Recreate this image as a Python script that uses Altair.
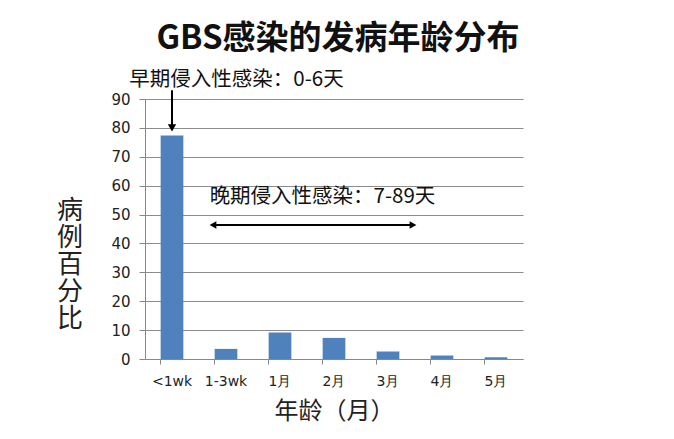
import altair as alt
import pandas as pd

categories = ["<1wk", "1-3wk", "1月", "2月", "3月", "4月", "5月"]
percent = [77.4, 3.5, 9.2, 7.3, 2.6, 1.2, 0.6]
y_ticks = [0, 10, 20, 30, 40, 50, 60, 70, 80, 90]

title_text = "GBS感染的发病年龄分布"
y_title = "病\n例\n百\n分\n比"
x_title = "年龄（月）"
early_text = "早期侵入性感染：0-6天"
late_text = "晚期侵入性感染：7-89天"

FONT = "Noto Sans CJK SC"
NUMFONT = "DejaVu Sans"
BLUE = "#4F81BD"

df = pd.DataFrame({"age": categories, "pct": percent})
one = pd.DataFrame({"k": [0]})

xscale = alt.Scale(domain=categories, paddingInner=0.58, paddingOuter=0.29)
yscale = alt.Scale(domain=[0, 90], nice=False)

x_axis = alt.Axis(title=x_title, labelAngle=0, labelFontSize=14, labelFont=NUMFONT,
                  labelColor="#222", labelPadding=10, tickSize=5, tickColor="#888",
                  domainColor="#888", bandPosition=0, titleFont=FONT,
                  titleFontSize=24, titleFontWeight="normal", titleColor="#222",
                  titlePadding=11, grid=False, labelOverlap=False)
y_axis = alt.Axis(title=None, values=y_ticks,
                  labelFontSize=15, labelOverlap=False, labelFlush=False,
                  labelFont=NUMFONT, labelColor="#222", labelPadding=9, tickSize=6,
                  tickColor="#888", domainColor="#888", gridColor="#8c8c8c",
                  gridWidth=1)

X = alt.X("age:N", sort=categories, scale=xscale, axis=x_axis)
Y = alt.Y("pct:Q", scale=yscale, axis=y_axis)

bars = alt.Chart(df).mark_bar(color=BLUE).encode(x=X, y=Y)

# early-onset arrow (points to the <1wk bar)
early_df = pd.DataFrame({"age": ["<1wk"], "pct": [80.0], "top": [93.0]})
early_rule = alt.Chart(early_df).mark_rule(color="black", strokeWidth=2).encode(
    x=X, y=Y, y2="top:Q")
early_head = alt.Chart(early_df).mark_point(shape="triangle-down", filled=True, color="black",
                                            size=70, opacity=1).encode(x=X, y=Y)

early_label = alt.Chart(one).mark_text(text=early_text, font=FONT, fontSize=20.5, color="#111",
                                       align="center", baseline="middle").encode(
    x=alt.value(91.5), y=alt.value(-19))

late_label = alt.Chart(one).mark_text(text=late_text, font=FONT, fontSize=20.5, color="#111",
                                      align="center", baseline="middle").encode(
    x=alt.value(177.5), y=alt.value(98))

late_rule = alt.Chart(one).mark_rule(color="black", strokeWidth=2).encode(
    x=alt.value(68), x2=alt.value(268), y=alt.value(126))
late_left = alt.Chart(one).mark_point(shape="triangle-left", filled=True, color="black",
                                      size=60, opacity=1).encode(
    x=alt.value(68), y=alt.value(126))
late_right = alt.Chart(one).mark_point(shape="triangle-right", filled=True, color="black",
                                       size=60, opacity=1).encode(
    x=alt.value(268), y=alt.value(126))

ytitle = alt.Chart(one).mark_text(text=y_title, lineBreak="\n", lineHeight=27, font=FONT,
                                  fontSize=26, color="#222", align="center",
                                  baseline="middle").encode(
    x=alt.value(-75), y=alt.value(112))

chart = alt.layer(bars, early_rule, early_head, early_label, late_label, late_rule,
                  late_left, late_right, ytitle).properties(
    width=378, height=260,
    title=alt.TitleParams(title_text, font=FONT, fontSize=33, fontWeight="bold",
                          color="#111", anchor="middle", offset=14, dx=4),
    autosize=alt.AutoSizeParams(type="none"),
    padding={"left": 137, "top": 91, "right": 20, "bottom": 70},
    background="white",
).configure_view(stroke=None)

chart.save("out.html", embed_options={"renderer": "svg", "actions": False})
